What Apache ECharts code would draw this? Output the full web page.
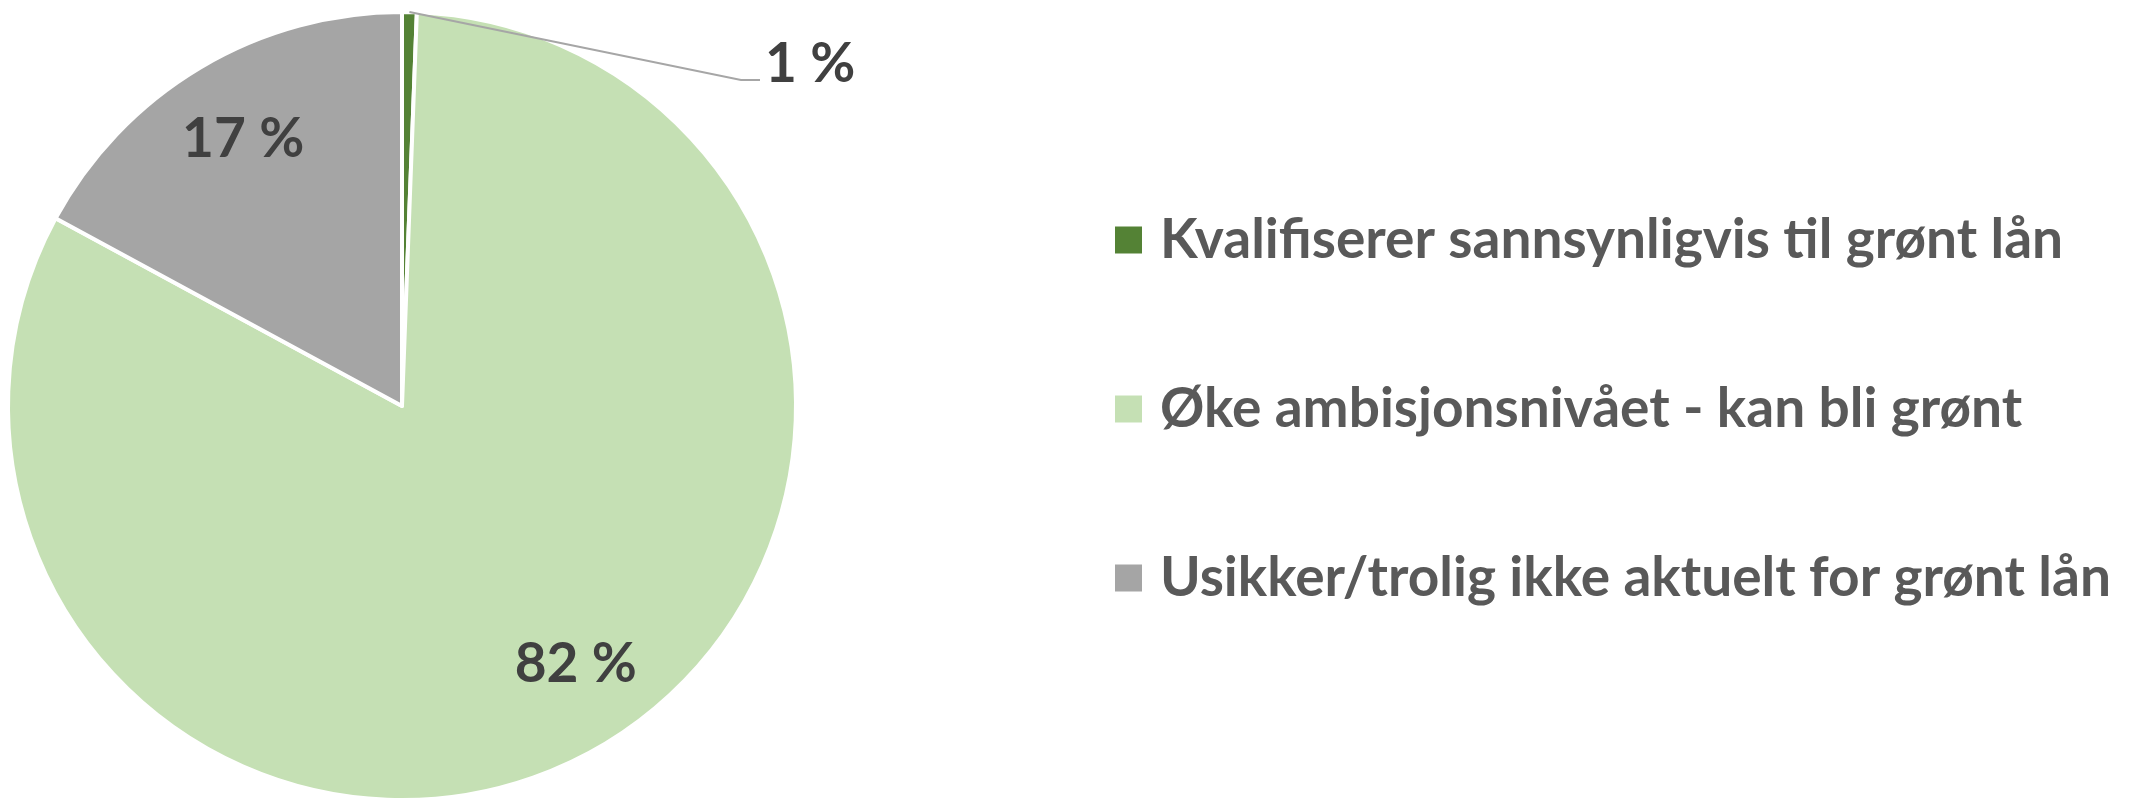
<!DOCTYPE html>
<html>
<head>
<meta charset="utf-8">
<script src="https://cdn.jsdelivr.net/npm/echarts@6/dist/echarts.min.js"></script>
<style>
  html, body { margin: 0; padding: 0; background: #fff; }
  #chart { width: 2140px; height: 808px; }
</style>
</head>
<body>
<div id="chart"></div>
<script>
  // data
  var categories = [
    'Kvalifiserer sannsynligvis til grønt lån',
    'Øke ambisjonsnivået - kan bli grønt',
    'Usikker/trolig ikke aktuelt for grønt lån'
  ];
  var shares = [0.6, 82.3, 17.1];
  var colors = ['#548235', '#C5E0B4', '#A5A5A5'];

  var fontFamily = 'Lato, "Open Sans", sans-serif';
  var fontSize = 55;
  var center = [402, 406];
  var R = 394;

  function pct(p) {
    return Math.round(p.percent) + ' %';
  }

  // outer point of the small slice's mid angle, start of its leader line
  var total = shares.reduce(function (a, b) { return a + b; }, 0);
  var midAngle = (90 - shares[0] / total * 180) * Math.PI / 180;
  var lineStart = [center[0] + R * Math.cos(midAngle), center[1] - R * Math.sin(midAngle)];

  var labelStyle = {
    show: true,
    formatter: pct,
    fontFamily: fontFamily,
    fontSize: fontSize,
    fontWeight: 'bold',
    color: '#404040'
  };

  var chart = echarts.init(document.getElementById('chart'));

  chart.setOption({
    animation: false,
    legend: {
      orient: 'vertical',
      left: 1110,
      top: 235 - fontSize / 2,
      itemWidth: 27,
      itemHeight: 27,
      itemGap: 169 - fontSize,
      icon: 'rect',
      selectedMode: false,
      itemStyle: { borderWidth: 0 },
      textStyle: {
        fontFamily: fontFamily,
        fontSize: fontSize,
        fontWeight: 'bold',
        color: '#595959',
        padding: [0, 0, 0, 13]
      },
      data: categories
    },
    series: [{
      // the slices
      type: 'pie',
      z: 2,
      center: center,
      radius: [0, R],
      startAngle: 90,
      clockwise: true,
      emphasis: { disabled: true },
      itemStyle: { borderColor: '#fff', borderWidth: 4 },
      label: { show: false },
      labelLine: { show: false },
      data: categories.map(function (name, i) {
        return { name: name, value: shares[i], itemStyle: { color: colors[i] } };
      })
    }, {
      // transparent ring drawn on top: carries the labels (inner ones at ~0.78 R)
      type: 'pie',
      z: 5,
      center: center,
      radius: [0.56 * R, R],
      startAngle: 90,
      clockwise: true,
      silent: true,
      avoidLabelOverlap: false,
      emphasis: { disabled: true },
      itemStyle: { color: 'rgba(0,0,0,0)' },
      label: labelStyle,
      labelLine: {
        show: true,
        maxSurfaceAngle: 180,
        lineStyle: { color: '#A6A6A6', width: 2 }
      },
      labelLayout: function (p) {
        if (p.dataIndex === 0) {
          var x = 765;
          return {
            x: x,
            y: 64,
            align: 'left',
            verticalAlign: 'middle',
            labelLinePoints: [lineStart, [x - 24, 80], [x - 5, 80]]
          };
        }
        if (p.dataIndex === 1) {
          return { dx: 20, dy: -11 };
        }
      },
      data: categories.map(function (name, i) {
        return {
          name: name,
          value: shares[i],
          label: { position: i === 0 ? 'outside' : 'inside' },
          labelLine: { show: i === 0 }
        };
      })
    }]
  });
</script>
</body>
</html>
